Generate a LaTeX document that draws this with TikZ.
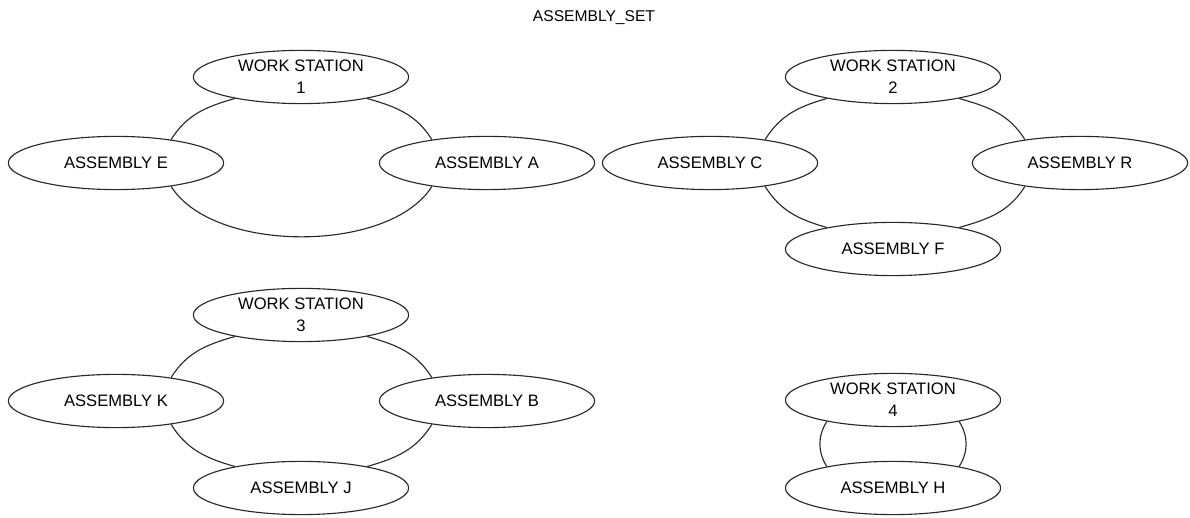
\documentclass[tikz,border=0pt]{standalone}
\usepackage{fontspec}
\setmainfont{Liberation Sans}
\usetikzlibrary{shapes.geometric,positioning}
\definecolor{wsline}{RGB}{40,40,40}
\tikzset{
  wsnode/.style={draw=wsline,ellipse,line width=0.8pt,minimum width=5.38cm,minimum height=1.33cm,inner sep=0pt,align=center,font=\fontsize{11.8}{15.5}\selectfont},
  wslink/.style={draw=wsline,line width=0.8pt}
}
\begin{document}
\begin{tikzpicture}[x=0.025cm,y=0.025cm]
  \useasboundingbox (0,0) rectangle (1190,518);
  \node[font=\fontsize{11.1}{13}\selectfont] (title) at (594,500) {ASSEMBLY\_SET};
  % station 1
  \node[wsnode] (ws1) at (301,441) {WORK STATION\\1};
  \node[wsnode] (asmE) at (116,355) {ASSEMBLY E};
  \node[wsnode] (asmA) at (487,355) {ASSEMBLY A};
  \draw[wslink] (ws1.198) to[out=196,in=58] (asmE.23);
  \draw[wslink] (ws1.-18) to[out=-16,in=122] (asmA.157);
  \draw[wslink] (asmE.-23) to[out=-58,in=238,looseness=0.78] (asmA.203);
  % station 2
  \node[wsnode] (ws2) at (893,441) {WORK STATION\\2};
  \node[wsnode] (asmC) at (710,355) {ASSEMBLY C};
  \node[wsnode] (asmR) at (1080,355) {ASSEMBLY R};
  \node[wsnode] (asmF) at (893,269) {ASSEMBLY F};
  \draw[wslink] (ws2.198) to[out=196,in=58] (asmC.23);
  \draw[wslink] (ws2.-18) to[out=-16,in=122] (asmR.157);
  \draw[wslink] (asmC.-23) to[out=-58,in=164] (asmF.162);
  \draw[wslink] (asmF.18) to[out=16,in=238] (asmR.203);
  % station 3
  \node[wsnode] (ws3) at (301,203) {WORK STATION\\3};
  \node[wsnode] (asmK) at (116,117) {ASSEMBLY K};
  \node[wsnode] (asmB) at (487,117) {ASSEMBLY B};
  \node[wsnode] (asmJ) at (301,30) {ASSEMBLY J};
  \draw[wslink] (ws3.198) to[out=196,in=58] (asmK.23);
  \draw[wslink] (ws3.-18) to[out=-16,in=122] (asmB.157);
  \draw[wslink] (asmK.-23) to[out=-58,in=164] (asmJ.162);
  \draw[wslink] (asmJ.18) to[out=16,in=238] (asmB.203);
  % station 4
  \node[wsnode] (ws4) at (893,118) {WORK STATION\\4};
  \node[wsnode] (asmH) at (893,30) {ASSEMBLY H};
  \draw[wslink] (ws4.198) to[out=238,in=122] (asmH.162);
  \draw[wslink] (ws4.-18) to[out=-58,in=58] (asmH.18);
\end{tikzpicture}
\end{document}
